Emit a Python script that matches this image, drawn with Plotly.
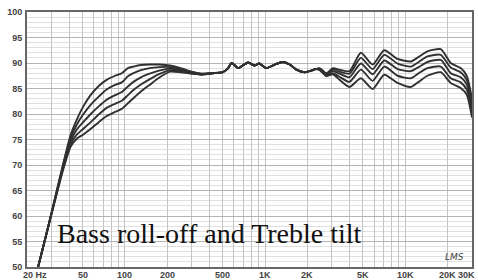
import math
import plotly.graph_objects as go

freq_hz = [22, 24, 28, 33, 36.5, 41, 45.5, 50, 56.5, 65, 74, 85, 95, 105, 115, 130, 150, 175,
           210, 250, 300, 350, 420, 500, 545, 577, 643, 700, 757, 845, 907, 1024, 1174, 1344,
           1500, 1674, 1920, 2085, 2300, 2455, 2740, 3050, 3400, 4000, 4830, 5860, 7100, 8830,
           10970, 12500, 14420, 17950, 21150, 24900, 27500, 30000]

spl_1 = [46, 50, 57.3, 65.6, 70.6, 75.9, 79.0, 81.3, 83.6, 85.5, 86.7, 87.5, 88.0, 89.0, 89.3, 89.6, 89.7, 89.7,
         89.5, 89.0, 88.3, 87.9, 88.0, 88.2, 89.0, 90.0, 89.0, 89.6, 90.1, 89.5, 89.9, 89.0, 89.7, 90.2,
         89.7, 88.7, 88.2, 88.4, 88.8, 89.0, 88.0, 89.0, 88.7, 88.4, 92.0, 89.7, 92.5, 90.8,
         90.3, 91.2, 92.3, 92.7, 90.0, 89.0, 87.5, 83.0]
spl_2 = [46, 50, 57.3, 65.4, 70.3, 75.3, 78.0, 79.8, 81.7, 83.4, 84.8, 85.7, 86.2, 87.4, 88.0, 88.6, 89.0, 89.2,
         89.2, 88.8, 88.2, 87.9, 88.0, 88.2, 89.0, 90.0, 89.0, 89.6, 90.1, 89.5, 89.9, 89.0, 89.7, 90.2,
         89.7, 88.7, 88.2, 88.4, 88.8, 88.9, 87.9, 88.7, 88.3, 87.9, 91.0, 88.8, 91.6, 89.9,
         89.3, 90.2, 91.3, 91.6, 89.1, 88.2, 86.7, 82.2]
spl_3 = [46, 50, 57.3, 65.3, 70.0, 74.7, 77.0, 78.3, 79.9, 81.5, 82.8, 83.7, 84.3, 85.4, 86.3, 87.2, 87.9, 88.5,
         88.9, 88.6, 88.1, 87.8, 88.0, 88.2, 89.0, 90.0, 89.0, 89.6, 90.1, 89.5, 89.9, 89.0, 89.7, 90.2,
         89.7, 88.7, 88.2, 88.4, 88.8, 88.8, 87.8, 88.4, 87.9, 87.2, 89.9, 87.8, 90.5, 88.8,
         88.4, 89.2, 90.2, 90.6, 88.0, 87.2, 85.8, 81.3]
spl_4 = [46, 50, 57.3, 65.1, 69.7, 74.1, 76.0, 77.0, 78.3, 79.9, 81.2, 82.0, 82.6, 83.7, 84.7, 85.8, 86.8, 87.8,
         88.6, 88.4, 88.0, 87.8, 88.0, 88.2, 89.0, 90.0, 89.0, 89.6, 90.1, 89.5, 89.9, 89.0, 89.7, 90.2,
         89.7, 88.7, 88.2, 88.4, 88.8, 88.7, 87.6, 88.0, 87.3, 86.3, 88.7, 86.5, 89.3, 87.5,
         87.0, 88.0, 89.0, 89.3, 87.0, 86.2, 84.8, 80.3]
spl_5 = [46, 50, 57.3, 64.9, 69.4, 73.6, 75.2, 75.9, 77.0, 78.4, 79.6, 80.4, 81.0, 82.1, 83.1, 84.4, 85.7, 87.1,
         88.3, 88.2, 87.9, 87.7, 88.0, 88.2, 89.0, 90.0, 89.0, 89.6, 90.1, 89.5, 89.9, 89.0, 89.7, 90.2,
         89.7, 88.7, 88.2, 88.4, 88.8, 88.6, 87.4, 87.8, 86.7, 85.3, 87.0, 84.9, 87.7, 86.1,
         85.3, 86.3, 87.5, 88.2, 86.1, 85.1, 83.8, 79.3]

y_ticks = [50, 55, 60, 65, 70, 75, 80, 85, 90, 95, 100]
x_tick_vals = [20, 50, 100, 200, 500, 1000, 2000, 5000, 10000, 20000, 30000]
x_tick_text = ["20 Hz", "50", "100", "200", "500", "1K", "2K", "5K", "10K", "20K", "30K"]
x_grid = [20, 30, 40, 50, 60, 70, 80, 90,
          100, 200, 300, 400, 500, 600, 700, 800, 900,
          1000, 2000, 3000, 4000, 5000, 6000, 7000, 8000, 9000,
          10000, 20000, 30000]
title_text = "Bass roll-off and Treble tilt"

fig = go.Figure()
for s in [spl_5, spl_4, spl_3, spl_2, spl_1]:
    fig.add_trace(go.Scatter(x=freq_hz, y=s, mode="lines",
                             line=dict(color="#303030", width=1.9, shape="spline", smoothing=0.6),
                             hoverinfo="skip", showlegend=False))

fig.update_xaxes(type="log", range=[math.log10(20), math.log10(30000)], automargin=False,
                 tickmode="array", tickvals=x_grid, showticklabels=False, ticks="",
                 showgrid=True, gridcolor="#c4c4c4", gridwidth=1,
                 showline=True, mirror=True, linecolor="#666666", linewidth=2, zeroline=False)
fig.update_yaxes(range=[50, 100], tickmode="array", tickvals=y_ticks, ticks="", automargin=False,
                 tickfont=dict(family="Liberation Sans", size=9, color="#444444", weight="bold"),
                 showgrid=True, gridcolor="#b4b4b4", gridwidth=1,
                 minor=dict(dtick=1, showgrid=True, gridcolor="#e0e0e0", ticks=""),
                 showline=True, mirror=True, linecolor="#666666", linewidth=2, zeroline=False,
                 ticklabelstandoff=1)

ann = []
for v, t in zip(x_tick_vals, x_tick_text):
    if v == 20:
        xa, xs = "left", -6
    elif v == 30000:
        xa, xs = "right", 5
    else:
        xa, xs = "center", 0
    ann.append(dict(x=math.log10(v), y=-0.005, xref="x", yref="paper", text=t, showarrow=False,
                    xanchor=xa, xshift=xs, yanchor="top",
                    font=dict(family="Liberation Sans", size=9, color="#444444", weight="bold")))
ann.append(dict(x=0.063, y=0.131, xref="paper", yref="paper", text=title_text, showarrow=False,
                xanchor="left", yanchor="middle",
                font=dict(family="Liberation Serif", size=28, color="#111111")))
ann.append(dict(x=0.96, y=0.04, xref="paper", yref="paper", text="<i>LMS</i>", showarrow=False,
                xanchor="center", yanchor="middle",
                font=dict(family="DejaVu Sans", size=9, color="#444444")))

fig.update_layout(width=478, height=280, margin=dict(l=27, r=6, t=12, b=13),
                  paper_bgcolor="white", plot_bgcolor="white", annotations=ann)
fig.write_html("out.html", config={"displayModeBar": False},
               post_script="document.body.style.margin='0';document.body.style.overflow='hidden';")
